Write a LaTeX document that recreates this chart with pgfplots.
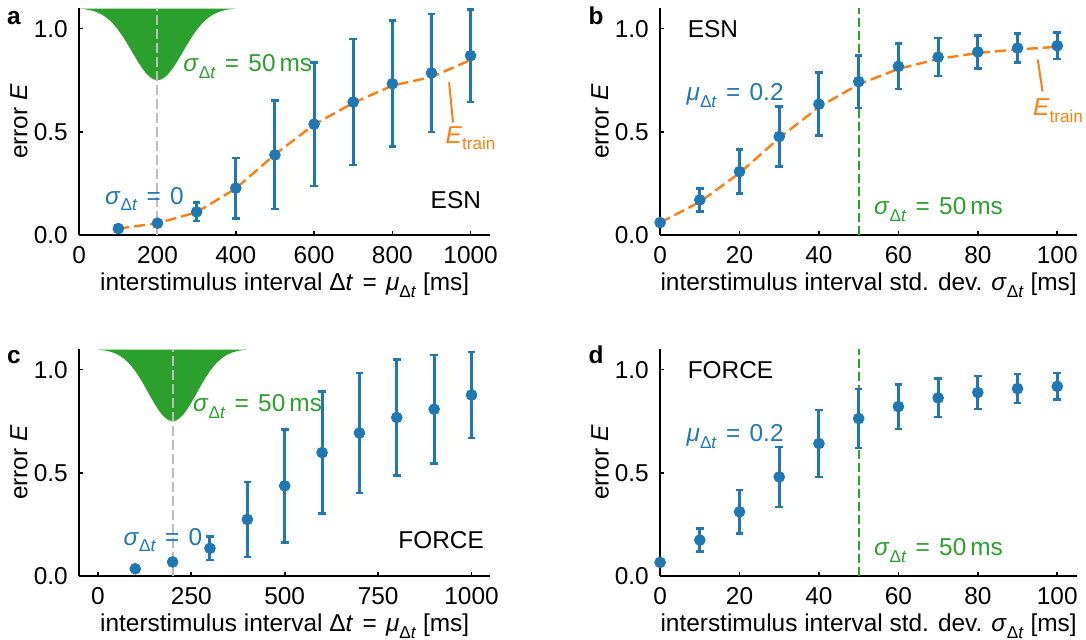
\documentclass[border=0pt]{standalone}
\usepackage{fontspec}
\setmainfont{Liberation Sans}
\usepackage{pgfplots}
\usepackage{pgfplotstable}
\pgfplotsset{compat=1.18}
\definecolor{mblue}{HTML}{1F77B4}
\definecolor{morange}{HTML}{FF7F0E}
\definecolor{mgreen}{HTML}{2CA02C}
\definecolor{mgray}{HTML}{BDBDBD}
\newcommand{\fsz}{\fontsize{12.2}{14.6}\selectfont}
\newcommand{\sub}[1]{\raisebox{-0.28em}{\fontsize{8.6}{9.5}\selectfont #1}}
\newcommand{\sdt}{\textit{σ}\sub{Δ\textit{t}}}
\newcommand{\mdt}{\textit{μ}\sub{Δ\textit{t}}}
\newcommand{\eq}{\hspace{0.38em}=\hspace{0.38em}}

\pgfplotstableread{
x y e
100 0.031 0.005
200 0.057 0.008
300 0.112 0.045
400 0.227 0.147
500 0.388 0.263
600 0.537 0.300
700 0.644 0.305
800 0.733 0.305
900 0.785 0.285
1000 0.869 0.224
}\dataA
\pgfplotstableread{
x y
100 0.031
200 0.057
300 0.110
400 0.225
500 0.390
600 0.535
700 0.640
800 0.724
900 0.765
1000 0.848
}\trainA
\pgfplotstableread{
x y e
0 0.060 0.010
10 0.170 0.055
20 0.307 0.107
30 0.477 0.145
40 0.634 0.153
50 0.743 0.128
60 0.817 0.110
70 0.862 0.092
80 0.887 0.080
90 0.906 0.070
100 0.917 0.064
}\dataB
\pgfplotstableread{
x y
0 0.060
10 0.160
20 0.300
30 0.470
40 0.620
50 0.730
60 0.805
70 0.853
80 0.882
90 0.899
100 0.912
}\trainB
\pgfplotstableread{
x y e
100 0.035 0.005
200 0.068 0.008
300 0.134 0.056
400 0.274 0.181
500 0.437 0.274
600 0.598 0.295
700 0.693 0.291
800 0.768 0.281
900 0.808 0.262
1000 0.877 0.208
}\dataC
\pgfplotstableread{
x y e
0 0.066 0.010
10 0.174 0.055
20 0.311 0.105
30 0.480 0.146
40 0.642 0.162
50 0.763 0.143
60 0.821 0.108
70 0.863 0.093
80 0.889 0.080
90 0.908 0.070
100 0.919 0.064
}\dataD
\pgfplotstableread{
x y
0 1.0969
10 1.0951
20 1.0924
30 1.0885
40 1.0831
50 1.0756
60 1.0656
70 1.0526
80 1.0363
90 1.0164
100 0.9928
110 0.9658
120 0.9359
130 0.9040
140 0.8714
150 0.8396
160 0.8104
170 0.7853
180 0.7662
190 0.7541
200 0.7500
210 0.7541
220 0.7662
230 0.7853
240 0.8104
250 0.8396
260 0.8714
270 0.9040
280 0.9359
290 0.9658
300 0.9928
310 1.0164
320 1.0363
330 1.0526
340 1.0656
350 1.0756
360 1.0831
370 1.0885
380 1.0924
390 1.0951
400 1.0969
}\gauss

\pgfplotsset{
  myax/.style={
    scale only axis, height=113.5pt, anchor=south west,
    axis x line*=bottom, axis y line*=left,
    axis line style={-, line width=0.8pt, black},
    clip mode=individual,
    tick align=inside, major tick length=2pt,
    tick style={line width=0.8pt, black},
    ymin=0, ymax=1.1, ytick={0,0.5,1},
    /pgf/number format/assume math mode=true,
    yticklabel style={/pgf/number format/.cd, fixed, fixed zerofill, precision=1, /tikz/.cd, anchor=east, inner sep=0pt, xshift=-5.5pt, font=\fsz},
    xticklabel style={/pgf/number format/.cd, 1000 sep={}, /tikz/.cd, anchor=base, inner sep=0pt, yshift=-14.4pt, font=\fsz},
    every axis x label/.style={at={(axis description cs:0.5,0)}, anchor=base, yshift=-27.6pt, font=\fsz},
    every axis y label/.style={rotate=90, anchor=center, font=\fsz},
  },
  pts/.style={mblue, only marks, mark=*, mark size=2.7pt, mark options={draw=none, fill=mblue},
    error bars/.cd, y dir=both, y explicit,
    error bar style={line width=1.5pt, mblue},
    error mark options={rotate=90, mblue, mark size=1.9pt, line width=1.3pt}},
  trn/.style={morange, line width=1.2pt, dash pattern=on 5.5pt off 2.5pt},
}

\begin{document}
\begin{tikzpicture}[font=\fsz]
\useasboundingbox (0,0) rectangle (543pt,320pt);

% ---------- a ----------
\begin{axis}[myax, at={(39.6pt,202.5pt)}, width=205.5pt,
  xmin=0, xmax=1050, xtick={0,200,400,600,800,1000},
  xlabel={interstimulus interval Δ\textit{t}\eq\mdt\ [ms]},
  ylabel={error \textit{E}}, ylabel style={at={(axis description cs:-0.146,0.5)}}]
\addplot[fill=mgreen, draw=none] table[x=x,y=y] {\gauss};
\addplot[mgray, line width=1pt, dash pattern=on 5pt off 2pt] coordinates {(200,0) (200,1.1)};
\addplot[trn] table[x=x,y=y] {\trainA};
\addplot[pts] table[x=x,y=y,y error=e] {\dataA};
\addplot[morange, line width=1pt] coordinates {(945,0.74) (955,0.545)};
\node[mgreen, anchor=base west] at (axis cs:248,0.793) {\sdt\eq 50\,ms};
\node[mblue, anchor=base west] at (axis cs:48,0.15) {\sdt\eq 0};
\node[anchor=base west] at (axis cs:880,0.13) {ESN};
\node[morange, anchor=base west, inner sep=0pt] at (axis cs:935,0.445) {\textit{E}\sub{train}};
\end{axis}

% ---------- b ----------
\begin{axis}[myax, at={(330.05pt,202.5pt)}, width=208.5pt,
  xmin=0, xmax=105, xtick={0,20,40,60,80,100},
  xlabel={interstimulus interval std. dev. \sdt\ [ms]},
  ylabel={error \textit{E}}, ylabel style={at={(axis description cs:-0.143,0.5)}}]
\addplot[mgreen, line width=1pt, dash pattern=on 4.7pt off 1.8pt] coordinates {(50,0) (50,1.1)};
\addplot[trn] table[x=x,y=y] {\trainB};
\addplot[pts] table[x=x,y=y,y error=e] {\dataB};
\addplot[morange, line width=1pt] coordinates {(95.1,0.85) (96.3,0.695)};
\node[anchor=base west] at (axis cs:5.2,0.955) {ESN};
\node[mblue, anchor=base west] at (axis cs:4.9,0.65) {\mdt\eq 0.2};
\node[mgreen, anchor=base west] at (axis cs:52.1,0.097) {\sdt\eq 50\,ms};
\node[morange, anchor=base west, inner sep=0pt] at (axis cs:93.8,0.578) {\textit{E}\sub{train}};
\end{axis}

% ---------- c ----------
\begin{axis}[myax, at={(39.6pt,32pt)}, width=205.5pt,
  xmin=-50, xmax=1050, xtick={0,250,500,750,1000},
  xlabel={interstimulus interval Δ\textit{t}\eq\mdt\ [ms]},
  ylabel={error \textit{E}}, ylabel style={at={(axis description cs:-0.146,0.5)}}]
\addplot[fill=mgreen, draw=none] table[x=x,y=y] {\gauss};
\addplot[mgray, line width=1pt, dash pattern=on 5pt off 2pt] coordinates {(200,0) (200,1.1)};
\addplot[pts] table[x=x,y=y,y error=e] {\dataC};
\node[mgreen, anchor=base west] at (axis cs:236,0.795) {\sdt\eq 50\,ms};
\node[mblue, anchor=base west] at (axis cs:50,0.15) {\sdt\eq 0};
\node[anchor=base east] at (axis cs:1052,0.134) {FORCE};
\end{axis}

% ---------- d ----------
\begin{axis}[myax, at={(330.05pt,32pt)}, width=208.5pt,
  xmin=0, xmax=105, xtick={0,20,40,60,80,100},
  xlabel={interstimulus interval std. dev. \sdt\ [ms]},
  ylabel={error \textit{E}}, ylabel style={at={(axis description cs:-0.143,0.5)}}]
\addplot[mgreen, line width=1pt, dash pattern=on 4.7pt off 1.8pt] coordinates {(50,0) (50,1.1)};
\addplot[pts] table[x=x,y=y,y error=e] {\dataD};
\node[anchor=base west] at (axis cs:5.2,0.956) {FORCE};
\node[mblue, anchor=base west] at (axis cs:4.9,0.653) {\mdt\eq 0.2};
\node[mgreen, anchor=base west] at (axis cs:52.1,0.10) {\sdt\eq 50\,ms};
\end{axis}

\node[font=\fsz\bfseries, anchor=base] at (7pt,307.5pt) {a};
\node[font=\fsz\bfseries, anchor=base] at (298pt,307.5pt) {b};
\node[font=\fsz\bfseries, anchor=base] at (7pt,138.3pt) {c};
\node[font=\fsz\bfseries, anchor=base] at (298pt,138.3pt) {d};
\end{tikzpicture}
\end{document}
